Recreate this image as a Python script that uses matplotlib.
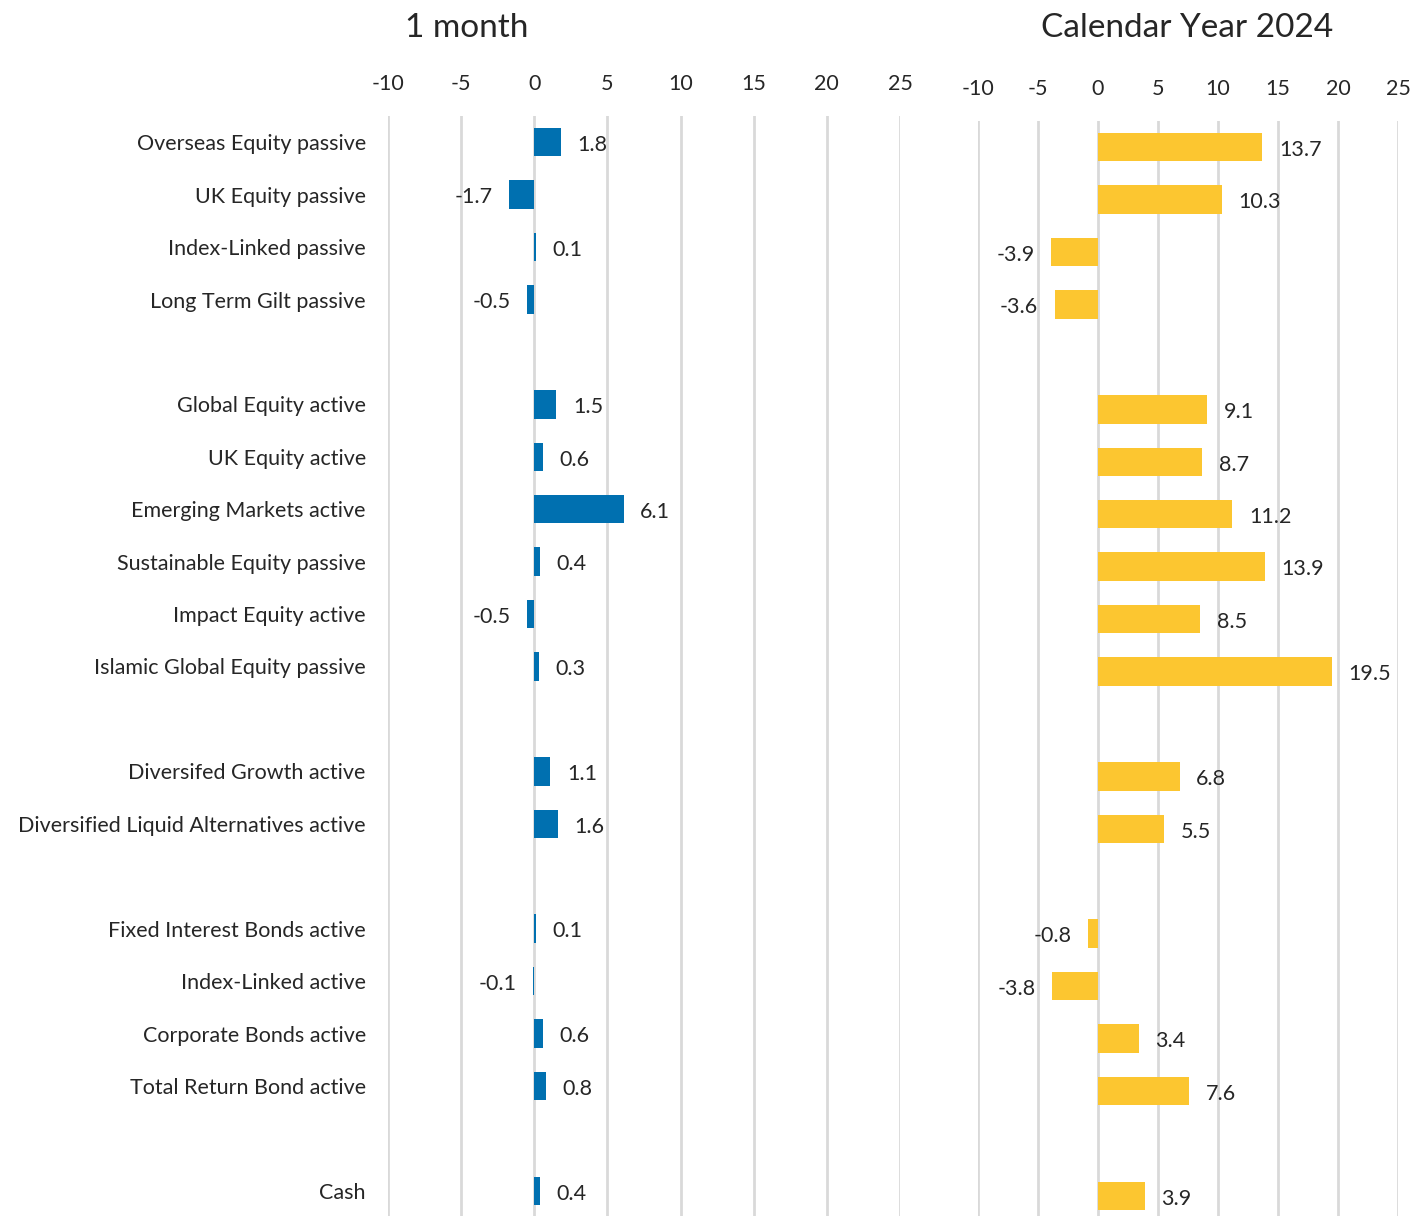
import matplotlib
matplotlib.use("Agg")
import matplotlib.pyplot as plt
import numpy as np

plt.rcParams['font.family'] = ['Lato', 'DejaVu Sans']

categories = [
    "Overseas Equity passive", "UK Equity passive", "Index-Linked passive", "Long Term Gilt passive", "",
    "Global Equity active", "UK Equity active", "Emerging Markets active", "Sustainable Equity passive",
    "Impact Equity active", "Islamic Global Equity passive", "",
    "Diversifed Growth active", "Diversified Liquid Alternatives active", "",
    "Fixed Interest Bonds active", "Index-Linked active", "Corporate Bonds active", "Total Return Bond active", "",
    "Cash",
]
one_month = [1.8, -1.7, 0.1, -0.5, None, 1.5, 0.6, 6.1, 0.4, -0.5, 0.3, None,
             1.1, 1.6, None, 0.1, -0.1, 0.6, 0.8, None, 0.4]
year_2024 = [13.7, 10.3, -3.9, -3.6, None, 9.1, 8.7, 11.2, 13.9, 8.5, 19.5, None,
             6.8, 5.5, None, -0.8, -3.8, 3.4, 7.6, None, 3.9]
ticks = [-10, -5, 0, 5, 10, 15, 20, 25]
titles = ["1 month", "Calendar Year 2024"]

W, H = 1413, 1216
fig = plt.figure(figsize=(W / 100, H / 100), dpi=100)

def px_axes(x0, x1, ytop, ybot):
    return fig.add_axes([x0 / W, 1 - ybot / H, (x1 - x0) / W, (ybot - ytop) / H])

ax1 = px_axes(388, 900, 116, 1217)
ax2 = px_axes(978, 1398, 121, 1222)

TEXT = '#262626'
GRID = '#D9D9D9'
FS = 15.5

for ax, vals, color in [(ax1, one_month, '#0070B0'), (ax2, year_2024, '#FCC630')]:
    for i, v in enumerate(vals):
        if v is None:
            continue
        ax.barh(i, v, height=0.54, color=color, zorder=3)
        if v >= 0:
            ax.annotate(f"{v:.1f}", (v, i), xytext=(12, -2), textcoords='offset points',
                        ha='left', va='center', fontsize=FS, color=TEXT)
        else:
            ax.annotate(f"{v:.1f}", (v, i), xytext=(-12, -2), textcoords='offset points',
                        ha='right', va='center', fontsize=FS, color=TEXT)
    ax.set_xlim(-10, 25)
    ax.set_ylim(len(categories) - 0.5, -0.5)
    ax.set_xticks(ticks)
    ax.set_xticklabels([str(t) for t in ticks])
    ax.xaxis.tick_top()
    ax.tick_params(axis='x', length=0, pad=16, labelsize=FS, labelcolor=TEXT)
    ax.grid(axis='x', color=GRID, linewidth=2, zorder=0)
    for s in ax.spines.values():
        s.set_visible(False)
    ax.set_facecolor('none')

ax1.set_yticks(np.arange(len(categories)))
ax1.set_yticklabels(categories)
ax1.tick_params(axis='y', length=0, pad=16, labelsize=FS, labelcolor=TEXT)
ax2.set_yticks([])

fig.text(467 / W, 1 - 28 / H, titles[0], ha='center', va='center', fontsize=24, color=TEXT)
fig.text(1187 / W, 1 - 28 / H, titles[1], ha='center', va='center', fontsize=24, color=TEXT)

fig.savefig("out.png", dpi=100, facecolor='white')
